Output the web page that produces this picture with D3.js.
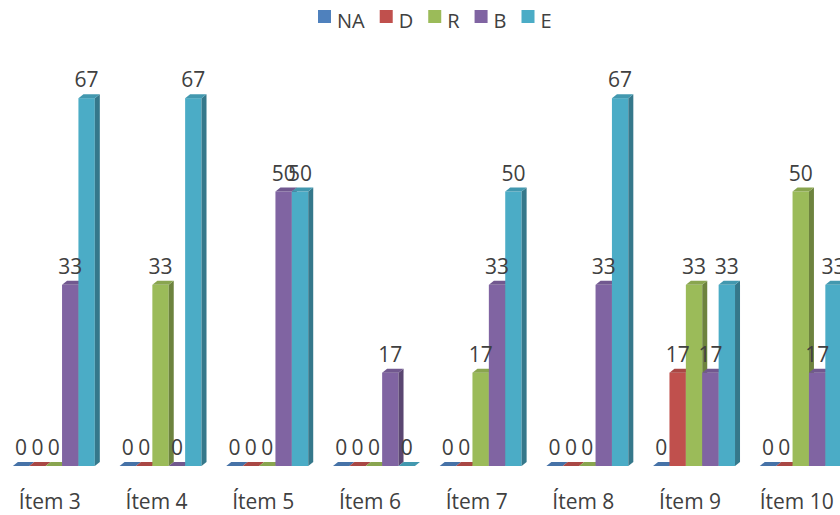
<!DOCTYPE html>
<html>
<head>
<meta charset="utf-8">
<script src="https://cdn.jsdelivr.net/npm/d3@7"></script>
<style>
body { margin: 0; background: #fff; }
text { font-family: "Open Sans", Lato, sans-serif; fill: #404040; }
</style>
</head>
<body>
<svg id="chart" width="840" height="515"></svg>
<script>
var categories = ["Ítem 3", "Ítem 4", "Ítem 5", "Ítem 6", "Ítem 7", "Ítem 8", "Ítem 9", "Ítem 10"];
var seriesNames = ["NA", "D", "R", "B", "E"];
var valNA = [0, 0, 0, 0, 0, 0, 0, 0];
var valD  = [0, 0, 0, 0, 0, 0, 17, 0];
var valR  = [0, 33, 0, 0, 17, 0, 33, 50];
var valB  = [33, 0, 50, 17, 33, 33, 17, 17];
var valE  = [67, 67, 50, 0, 50, 67, 33, 33];
var colors = ["#4f81bd", "#c0504d", "#9bbb59", "#8064a2", "#4bacc6"];

var values = [valNA, valD, valR, valB, valE];
var svg = d3.select("#chart");

// 3d depth of the bars
var dx = 5, dy = 4;

var step = 106.7;
var x = d3.scaleBand()
    .domain(categories)
    .range([0.5, 0.5 + step * categories.length])
    .paddingInner(0.232)
    .paddingOuter(0.116);

var x1 = d3.scaleBand()
    .domain(seriesNames)
    .range([0, x.bandwidth()]);

var y = d3.scaleLinear()
    .domain([0, 100])
    .range([466, 466 - 549]);

var g = svg.append("g");

categories.forEach(function(cat, i) {
    seriesNames.forEach(function(s, j) {
        var v = values[j][i];
        var x0 = x(cat) + x1(s);
        var w = x1.bandwidth();
        var yt = y(v), yb = y(0);
        var c = d3.color(colors[j]);
        var bar = g.append("g").attr("class", "bar");
        if (v > 0) {
            bar.append("rect")
                .attr("x", x0).attr("y", yt)
                .attr("width", w).attr("height", yb - yt)
                .attr("fill", c.formatHex());
            bar.append("polygon")
                .attr("points", [[x0 + w, yt], [x0 + w + dx, yt - dy], [x0 + w + dx, yb - dy], [x0 + w, yb]].join(" "))
                .attr("fill", c.darker(1.0).formatHex());
        }
        bar.append("polygon")
            .attr("points", [[x0, yt], [x0 + dx, yt - dy], [x0 + w + dx, yt - dy], [x0 + w, yt]].join(" "))
            .attr("fill", c.darker(0.35).formatHex());
    });
});

// value labels
categories.forEach(function(cat, i) {
    seriesNames.forEach(function(s, j) {
        var v = values[j][i];
        svg.append("text")
            .attr("x", x(cat) + x1(s) + x1.bandwidth() / 2)
            .attr("y", y(v) - 11)
            .attr("text-anchor", "middle")
            .style("font-size", "21px")
            .text(v);
    });
});

// category labels
svg.selectAll(".cat")
    .data(categories)
    .enter().append("text")
    .attr("class", "cat")
    .attr("x", function(d) { return x(d) + x.bandwidth() / 2 - 4; })
    .attr("y", 509)
    .attr("text-anchor", "middle")
    .style("font-size", "21px")
    .text(function(d) { return d; });

// legend
var legend = svg.append("g");
var lx = 0;
seriesNames.forEach(function(s, j) {
    var item = legend.append("g").attr("transform", "translate(" + lx + ",0)");
    item.append("rect")
        .attr("x", 0).attr("y", 10)
        .attr("width", 13).attr("height", 13)
        .attr("fill", colors[j]);
    var t = item.append("text")
        .attr("x", 19).attr("y", 28)
        .style("font-size", "20px")
        .text(s);
    lx += 19 + t.node().getComputedTextLength() + 15;
});
legend.attr("transform", "translate(" + (318) + ",0)");
</script>
</body>
</html>
